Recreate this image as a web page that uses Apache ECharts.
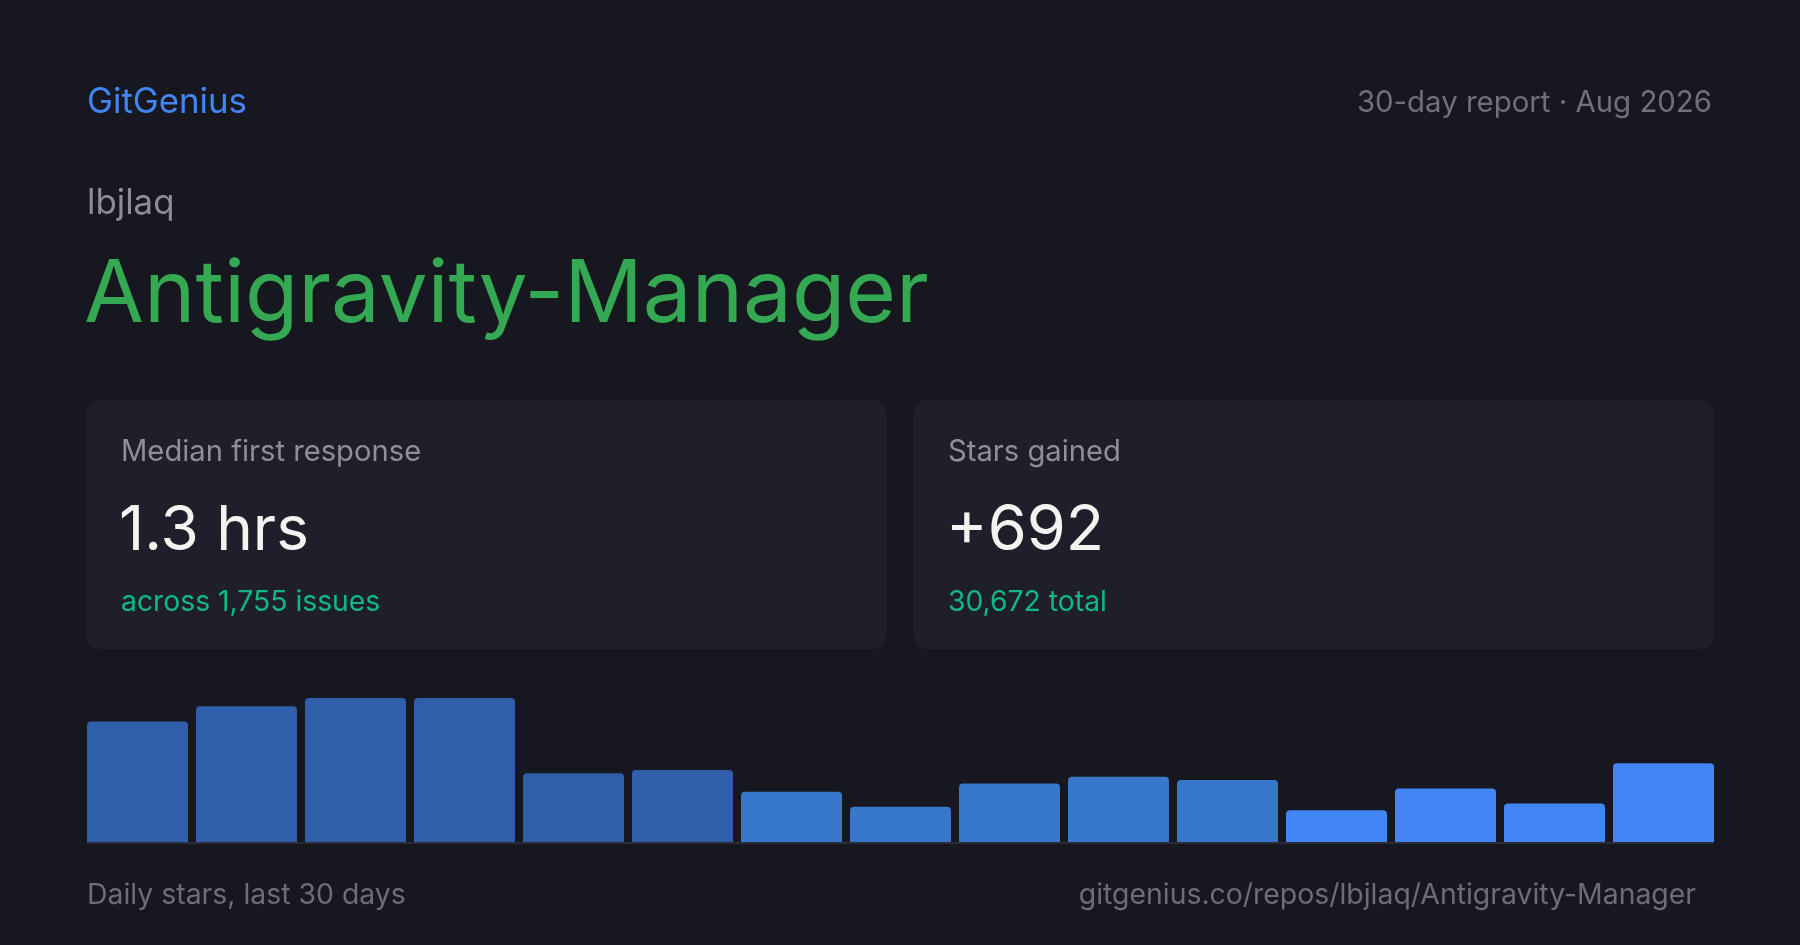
<!DOCTYPE html>
<html>
<head>
<meta charset="utf-8">
<script src="https://cdn.jsdelivr.net/npm/echarts@6/dist/echarts.min.js"></script>
<style>
  html, body { margin: 0; padding: 0; background: #16171f; }
  #chart { width: 1800px; height: 945px; }
</style>
</head>
<body>
<div id="chart"></div>
<script>
// ---- data ----
const brand = 'GitGenius';
const reportLabel = '30-day report \u00b7 Aug 2026';
const owner = 'lbjlaq';
const repo = 'Antigravity-Manager';
const cardTitles = ['Median first response', 'Stars gained'];
const cardValues = ['1.3 hrs', '+692'];
const cardNotes = ['across 1,755 issues', '30,672 total'];
const footerLeft = 'Daily stars, last 30 days';
const footerRight = 'gitgenius.co/repos/lbjlaq/Antigravity-Manager';
const periods = ['1','2','3','4','5','6','7','8','9','10','11','12','13','14','15'];
const dailyStars = [72, 81, 86, 86, 41, 43, 30, 21, 35, 39, 37, 19, 32, 23, 47];

// ---- style ----
const shadeDark = '#2f5faa';
const shadeMid = '#3778cc';
const shadeBright = '#4285f4';
function barColor(i) {
  if (i < 6) return shadeDark;
  if (i < 11) return shadeMid;
  return shadeBright;
}
const FONT = 'Inter, "Noto Sans", sans-serif';

const chart = echarts.init(document.getElementById('chart'), null, { renderer: 'canvas' });

function txt(x, y, text, size, color, align) {
  return {
    type: 'text', x: x, y: y, z: 10,
    style: { text: text, fill: color, font: size + 'px ' + FONT, textAlign: align || 'left', textVerticalAlign: 'middle' }
  };
}

const cardX = [87, 914];
const graphics = [
  txt(87, 103, brand, 34.8, '#4285f4'),
  txt(1712, 103, reportLabel, 29.4, '#6e707c', 'right'),
  txt(87, 204, owner, 34.8, '#8b8d98'),
  txt(84, 296, repo, 87, '#34a853'),
  txt(87, 895, footerLeft, 28.4, '#6b6d79'),
  txt(1696, 895, footerRight, 28.4, '#6b6d79', 'right'),
  { type: 'rect', z: 5, shape: { x: 87, y: 842, width: 1626, height: 2 }, style: { fill: '#2b2c37' } }
];
const valueSizes = [62, 63];
cardX.forEach(function (cx, i) {
  graphics.push({ type: 'rect', z: 1, shape: { x: cx, y: 400, width: 799, height: 249, r: 12 }, style: { fill: '#1f1f2b' } });
  graphics.push(txt(cx + 34, 452, cardTitles[i], 29.2, '#8e8f9a'));
  graphics.push(txt(cx + 32, 531, cardValues[i], valueSizes[i], '#f3f3ef'));
  graphics.push(txt(cx + 34, 602, cardNotes[i], 28.3, '#10b981'));
});

chart.setOption({
  backgroundColor: '#16171f',
  animation: false,
  grid: { left: 83, top: 698, width: 1635, height: 144 },
  xAxis: {
    type: 'category', data: periods, boundaryGap: true,
    axisLine: { show: false }, axisTick: { show: false }, axisLabel: { show: false }, splitLine: { show: false }
  },
  yAxis: {
    type: 'value', min: 0, max: 86,
    axisLine: { show: false }, axisTick: { show: false }, axisLabel: { show: false }, splitLine: { show: false }
  },
  series: [{
    type: 'bar',
    data: dailyStars.map(function (v, i) { return { value: v, itemStyle: { color: barColor(i) } }; }),
    barWidth: 101,
    itemStyle: { borderRadius: [4, 4, 0, 0] },
    silent: true
  }],
  graphic: graphics
});
</script>
</body>
</html>
